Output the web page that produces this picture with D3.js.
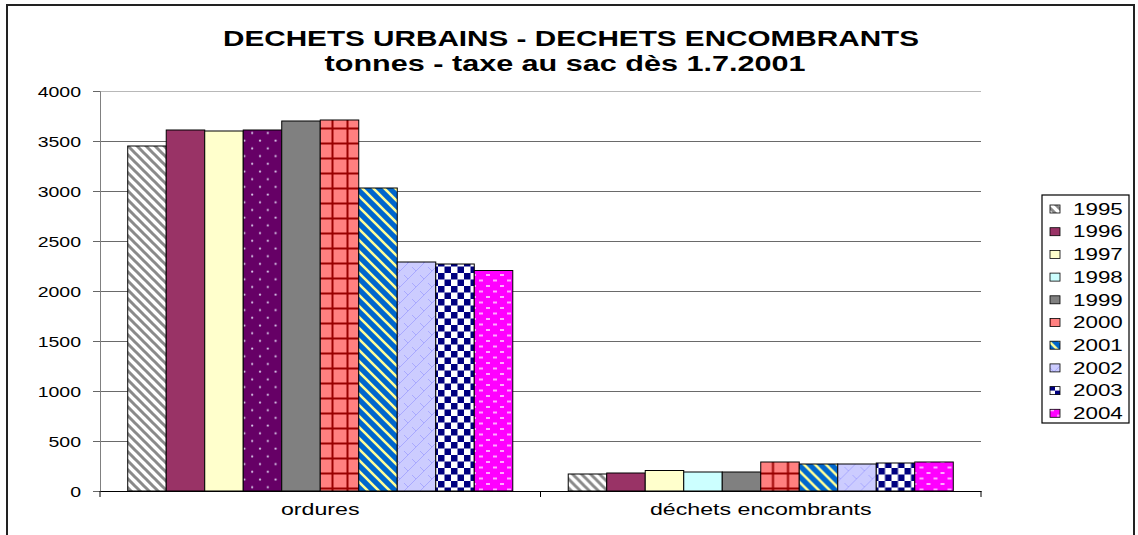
<!DOCTYPE html>
<html>
<head>
<meta charset="utf-8">
<script src="https://cdn.jsdelivr.net/npm/d3@7"></script>
<style>
  body { margin: 0; background: #fff; }
  text { font-family: "Liberation Sans", Arial, sans-serif; fill: #000; }
</style>
</head>
<body>
<div id="chart"></div>
<script>
// data
let categories = ["ordures", "déchets encombrants"];
let years = ["1995", "1996", "1997", "1998", "1999", "2000", "2001", "2002", "2003", "2004"];
let ordures = [3450, 3610, 3600, 3610, 3700, 3710, 3030, 2290, 2270, 2205];
let encombrants = [170, 180, 205, 190, 190, 290, 270, 270, 280, 290];
let yTicks = [0, 500, 1000, 1500, 2000, 2500, 3000, 3500, 4000];
let titleLines = ["DECHETS URBAINS - DECHETS ENCOMBRANTS", "tonnes - taxe au sac dès 1.7.2001"];

let seriesValues = [ordures, encombrants];

let width = 1138, height = 535;
let margin = { top: 91, right: 157, bottom: 44, left: 100 };
let plotW = width - margin.left - margin.right;
let plotH = height - margin.top - margin.bottom;

let svg = d3.select("#chart").append("svg")
  .attr("width", width)
  .attr("height", height);

// ---- patterns ----
let defs = svg.append("defs");

function pat(id, w, h) {
  return defs.append("pattern")
    .attr("id", id)
    .attr("patternUnits", "userSpaceOnUse")
    .attr("width", w)
    .attr("height", h);
}

// 1995 grey diagonal stripes on white
let p95 = pat("p1995", 9, 9);
p95.append("rect").attr("width", 9).attr("height", 9).attr("fill", "#fff");
p95.append("path").attr("d", "M-2,-2 L11,11 M-2,7 L2,11 M7,-2 L11,2")
  .attr("stroke", "#8a8a8a").attr("stroke-width", 3);

// 1998 purple with light dots (ordures only)
let p98 = pat("p1998dots", 15.6, 15.4);
p98.append("rect").attr("width", 15.6).attr("height", 15.4).attr("fill", "#660066");
p98.append("circle").attr("cx", 4).attr("cy", 3.5).attr("r", 1.1).attr("fill", "#d8c8e8");
p98.append("circle").attr("cx", 11.8).attr("cy", 11.2).attr("r", 1.1).attr("fill", "#d8c8e8");

// 2000 salmon with dark red grid
let p00 = pat("p2000", 15, 15);
p00.append("rect").attr("width", 15).attr("height", 15).attr("fill", "#ff8080");
p00.append("path").attr("d", "M0,7.5 H15 M7.5,0 V15")
  .attr("stroke", "#990000").attr("stroke-width", 2);

// 2001 blue with pale yellow diagonal stripes
let p01 = pat("p2001", 11, 11);
p01.append("rect").attr("width", 11).attr("height", 11).attr("fill", "#0066cc");
p01.append("path").attr("d", "M-2,-2 L13,13 M-2,9 L2,13 M9,-2 L13,2")
  .attr("stroke", "#ffff99").attr("stroke-width", 2.6);

// 2002 lavender with faint diagonal bricks
let p02 = pat("p2002", 16, 16);
p02.append("rect").attr("width", 16).attr("height", 16).attr("fill", "#ccccff");
p02.append("path").attr("d", "M0,16 L16,0 M0,8 L4,12 M8,16 L12,20 M8,0 L12,4")
  .attr("stroke", "#a9a9ff").attr("stroke-width", 1).attr("fill", "none");

// 2003 navy / white checkerboard
let p03 = pat("p2003", 13, 13);
p03.append("rect").attr("width", 13).attr("height", 13).attr("fill", "#fff");
p03.append("rect").attr("width", 6.5).attr("height", 6.5).attr("fill", "#000080");
p03.append("rect").attr("x", 6.5).attr("y", 6.5).attr("width", 6.5).attr("height", 6.5).attr("fill", "#000080");

// 2004 magenta with pale dashes
let p04 = pat("p2004", 14, 11);
p04.append("rect").attr("width", 14).attr("height", 11).attr("fill", "#ff00ff");
p04.append("rect").attr("x", 1).attr("y", 1.5).attr("width", 4).attr("height", 2).attr("fill", "#ffaaff");
p04.append("rect").attr("x", 8).attr("y", 7).attr("width", 4).attr("height", 2).attr("fill", "#ffaaff");

// fill per year (legend / default)
let yearFill = ["url(#p1995)", "#993366", "#ffffcc", "#ccffff", "#808080",
  "url(#p2000)", "url(#p2001)", "url(#p2002)", "url(#p2003)", "url(#p2004)"];

function barFill(ci, yi) {
  // the 1998 ordures bar carries its own dotted purple format
  if (ci == 0 && yi == 3) return "url(#p1998dots)";
  return yearFill[yi];
}

// ---- outer frame ----
svg.append("rect")
  .attr("x", 7).attr("y", 5)
  .attr("width", 1127).attr("height", 540)
  .attr("fill", "none")
  .attr("stroke", "#222")
  .attr("stroke-width", 2);

// ---- title ----
let titleX = [571, 565];
titleLines.forEach(function(t, i) {
  svg.append("g")
    .attr("transform", "translate(" + titleX[i] + "," + (46 + i * 25) + ") scale(" + (i == 0 ? 1.35 : 1.39) + ",1)")
    .append("text")
    .attr("text-anchor", "middle")
    .style("font-weight", "bold")
    .style("font-size", "22px")
    .text(t);
});

let g = svg.append("g")
  .attr("transform", "translate(" + margin.left + "," + margin.top + ")");

// ---- scales ----
let x0 = d3.scaleBand()
  .domain(categories)
  .range([0, plotW])
  .paddingInner(0)
  .paddingOuter(0);

let x1 = d3.scaleBand()
  .domain(years)
  .range([0, x0.bandwidth()])
  .paddingInner(0)
  .paddingOuter(0.72);

let y = d3.scaleLinear()
  .domain([0, 4000])
  .range([plotH, 0]);

// ---- gridlines ----
g.append("g")
  .selectAll("line")
  .data(yTicks.filter(function(d) { return d > 0; }))
  .enter().append("line")
  .attr("x1", 0).attr("x2", plotW)
  .attr("y1", function(d) { return Math.round(y(d)) + 0.5; })
  .attr("y2", function(d) { return Math.round(y(d)) + 0.5; })
  .attr("stroke", function(d) { return d == 4000 ? "#b8b8b8" : "#6a6a6a"; })
  .attr("stroke-width", 1.2);

// ---- y axis ----
let ySx = 1.3;
let yAxis = d3.axisLeft(y)
  .tickValues(yTicks)
  .tickSize(7)
  .tickPadding(12)
  .tickFormat(d3.format("d"));

let yG = g.append("g")
  .attr("class", "y-axis")
  .call(yAxis);
yG.select(".domain").attr("stroke", "#808080");
yG.selectAll(".tick line").attr("stroke", "#666");
yG.selectAll(".tick text")
  .attr("fill", "#000")
  .style("font-size", "15px")
  .attr("transform", "scale(" + ySx + ",1)")
  .attr("x", -19 / ySx)
  .attr("dy", "0.34em");

// ---- bars ----
let groups = g.selectAll(".cat")
  .data(categories)
  .enter().append("g")
  .attr("class", "cat")
  .attr("transform", function(d) { return "translate(" + x0(d) + ",0)"; });

groups.selectAll("rect")
  .data(function(d, ci) {
    return years.map(function(yr, yi) {
      return { ci: ci, yi: yi, year: yr, value: seriesValues[ci][yi] };
    });
  })
  .enter().append("rect")
  .attr("x", function(d) { return x1(d.year); })
  .attr("y", function(d) { return y(d.value); })
  .attr("width", x1.bandwidth())
  .attr("height", function(d) { return plotH - y(d.value); })
  .attr("fill", function(d) { return barFill(d.ci, d.yi); })
  .attr("stroke", "#000")
  .attr("stroke-width", 1);

// ---- x axis ----
let xSx = 1.45;
let xAxis = d3.axisBottom(x0)
  .tickSize(0)
  .tickPadding(14);

let xG = g.append("g")
  .attr("class", "x-axis")
  .attr("transform", "translate(0," + plotH + ")")
  .call(xAxis);
xG.select(".domain").attr("stroke", "#000");
xG.selectAll(".tick text")
  .style("font-size", "16px")
  .attr("fill", "#000")
  .attr("transform", "scale(" + xSx + ",1)")
  .attr("dy", "0.62em");

// category separators
xG.append("g")
  .selectAll("line")
  .data([0, x0(categories[1]), plotW])
  .enter().append("line")
  .attr("x1", function(d) { return d; })
  .attr("x2", function(d) { return d; })
  .attr("y1", 0).attr("y2", 6)
  .attr("stroke", "#000");

// ---- legend ----
let legend = svg.append("g")
  .attr("transform", "translate(1042,195)");

legend.append("rect")
  .attr("width", 87).attr("height", 228)
  .attr("fill", "#fff")
  .attr("stroke", "#000")
  .attr("stroke-width", 1.2);

let items = legend.selectAll(".item")
  .data(years)
  .enter().append("g")
  .attr("class", "item")
  .attr("transform", function(d, i) { return "translate(0," + (14 + i * 22.7) + ")"; });

items.append("rect")
  .attr("x", 8).attr("y", -4)
  .attr("width", 10).attr("height", 8)
  .attr("fill", function(d, i) { return yearFill[i]; })
  .attr("stroke", "#000")
  .attr("stroke-width", 0.8);

items.append("g")
  .attr("transform", "translate(31,0) scale(1.4,1)")
  .append("text")
  .attr("dy", "0.36em")
  .style("font-size", "16px")
  .text(function(d) { return d; });
</script>
</body>
</html>
